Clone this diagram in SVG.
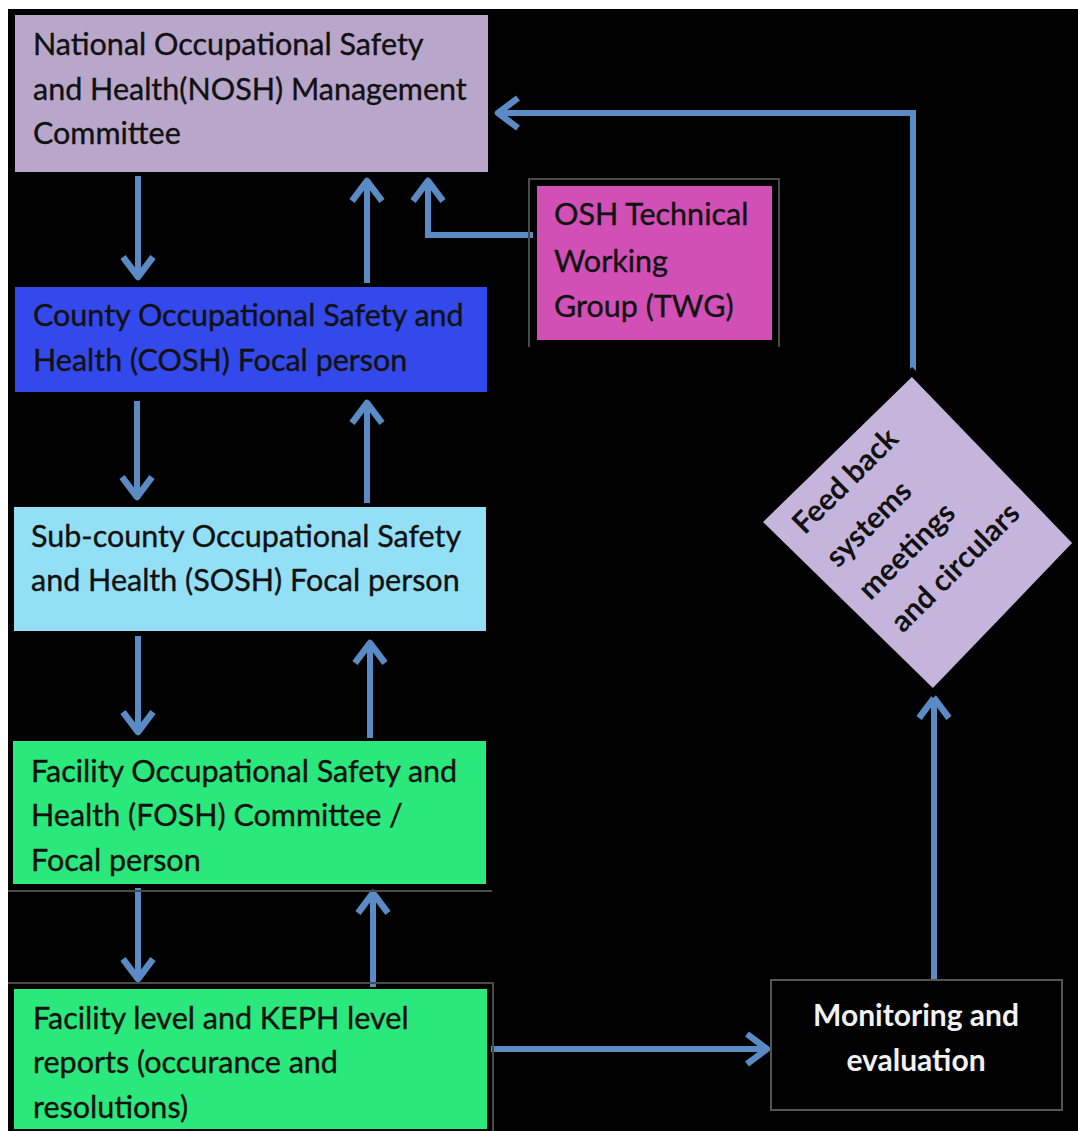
<svg xmlns="http://www.w3.org/2000/svg" width="1078" height="1131" viewBox="0 0 1078 1131">
<style>
.t{font-family:Lato,"Liberation Sans",sans-serif;font-size:30.5px;fill:#111;stroke:#111;stroke-width:0.35;}
.tb{font-family:Lato,"Liberation Sans",sans-serif;font-size:30px;font-weight:bold;fill:#111;}
.tw{font-family:Lato,"Liberation Sans",sans-serif;font-size:30px;font-weight:bold;fill:#f2f2f2;text-anchor:middle;}
.c{fill:none;stroke:#5b8bc5;stroke-width:6;marker-end:url(#ah);}
.frame{fill:none;stroke:#4a4a4a;stroke-width:2;}
</style>
<defs>
<marker id="ah" markerUnits="userSpaceOnUse" markerWidth="40" markerHeight="40" refX="0" refY="0" orient="auto" overflow="visible">
<path d="M-21,-15 L-1,0 L-21,15" fill="none" stroke="#5b8bc5" stroke-width="6.5" stroke-linejoin="round"/>
</marker>
</defs>
<rect x="0" y="0" width="1078" height="1131" fill="#ffffff"/>
<rect x="8" y="9" width="1070" height="1122" fill="#000000"/>

<g id="connectors">
<path class="c" d="M138,176 V278"/>
<path class="c" d="M367,283 V180"/>
<path class="c" d="M533,235 H428 V180"/>
<path class="c" d="M913,373 V113 H497"/>
<path class="c" d="M137,401 V498"/>
<path class="c" d="M367,503 V402"/>
<path class="c" d="M138,636 V733"/>
<path class="c" d="M370,738 V642"/>
<path class="c" d="M138,888 V980"/>
<path class="c" d="M373,987 V892"/>
<path class="c" d="M491,1049 H768"/>
<path class="c" d="M934,980 V697"/>
</g>

<g id="nosh">
<rect x="15" y="15" width="473" height="157" fill="#b8a6cb"/>
<text class="t" x="33" y="55">National Occupational Safety</text>
<text class="t" x="33" y="100">and Health(NOSH) Management</text>
<text class="t" x="33" y="144">Committee</text>
</g>

<g id="twg">
<path class="frame" d="M529,347 V179 H779 V347"/>
<rect x="537" y="186" width="235" height="154" fill="#d24fb6"/>
<text class="t" x="554" y="225">OSH Technical</text>
<text class="t" x="554" y="272">Working</text>
<text class="t" x="554" y="317">Group (TWG)</text>
</g>

<g id="cosh">
<rect x="15" y="287" width="472" height="105" fill="#3349ec"/>
<text class="t" x="33" y="326">County Occupational Safety and</text>
<text class="t" x="33" y="371">Health (COSH) Focal person</text>
</g>

<g id="sosh">
<rect x="14" y="507" width="472" height="124" fill="#93dff5"/>
<text class="t" x="31" y="547">Sub-county Occupational Safety</text>
<text class="t" x="31" y="591">and Health (SOSH) Focal person</text>
</g>

<g id="fosh">
<rect x="13" y="741" width="473" height="143" fill="#2ae87c"/>
<path class="frame" d="M8,891 H492"/>
<text class="t" x="31" y="782">Facility Occupational Safety and</text>
<text class="t" x="31" y="826">Health (FOSH) Committee /</text>
<text class="t" x="31" y="871">Focal person</text>
</g>

<g id="facility">
<path class="frame" d="M8,983 H493 V1131"/>
<rect x="14" y="989" width="473" height="140" fill="#2ae87c"/>
<text class="t" x="33" y="1029">Facility level and KEPH level</text>
<text class="t" x="33" y="1073">reports (occurance and</text>
<text class="t" x="33" y="1118">resolutions)</text>
</g>

<g id="monitoring">
<rect x="771" y="980" width="291" height="130" fill="#000000" stroke="#555555" stroke-width="2"/>
<text class="tw" x="916" y="1026">Monitoring and</text>
<text class="tw" x="916" y="1071">evaluation</text>
</g>

<g id="feedback">
<polygon points="912,372 1077,543 933,693 758,522" fill="#c5b4db" stroke="#000000" stroke-width="7" stroke-linejoin="miter"/>
<g transform="translate(925,537) rotate(-45)">
<text class="tb" x="-84" y="-86">Feed back</text>
<text class="tb" x="-84" y="-39">systems</text>
<text class="tb" x="-84" y="7">meetings</text>
<text class="tb" x="-84" y="53">and circulars</text>
</g>
</g>
</svg>
